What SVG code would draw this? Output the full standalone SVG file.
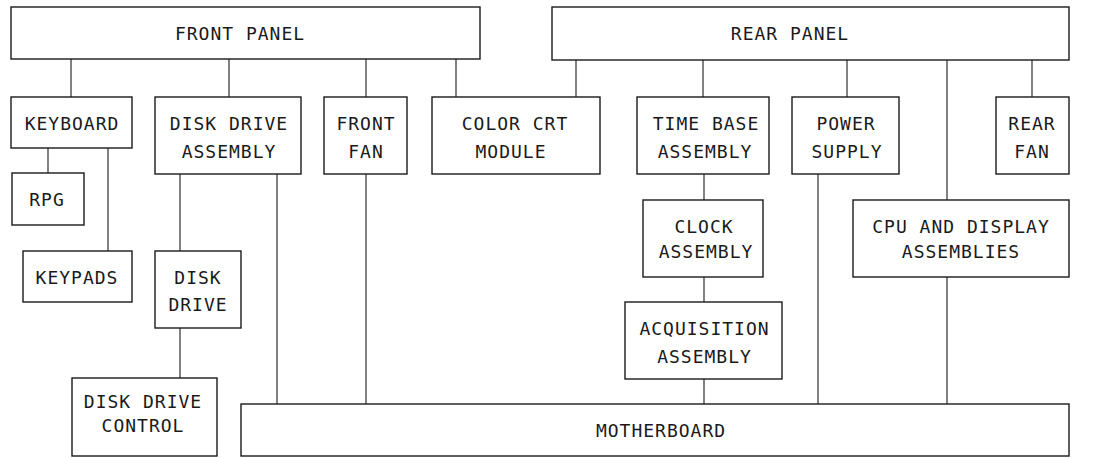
<svg xmlns="http://www.w3.org/2000/svg" width="1110" height="458" viewBox="0 0 1110 458">
<style>
rect{fill:#fff;stroke:#1a1a1a;stroke-width:1.4}
line{stroke:#1a1a1a;stroke-width:1.1}
text{font-family:"DejaVu Sans Mono","Liberation Mono",monospace;font-size:18px;letter-spacing:1px;fill:#1a1a1a;text-anchor:middle}
</style>
<rect x="0" y="0" width="1110" height="458" style="stroke:none"/>
<g id="connectors">
<line x1="71" y1="59" x2="71" y2="97"/>
<line x1="229" y1="59" x2="229" y2="97"/>
<line x1="366" y1="59" x2="366" y2="97"/>
<line x1="456" y1="59" x2="456" y2="97"/>
<line x1="576" y1="60" x2="576" y2="97"/>
<line x1="703" y1="60" x2="703" y2="97"/>
<line x1="847" y1="60" x2="847" y2="97"/>
<line x1="1032" y1="60" x2="1032" y2="97"/>
<line x1="947" y1="60" x2="947" y2="200"/>
<line x1="947" y1="277" x2="947" y2="404"/>
<line x1="48" y1="148" x2="48" y2="173"/>
<line x1="108" y1="148" x2="108" y2="251"/>
<line x1="180" y1="174" x2="180" y2="251"/>
<line x1="180" y1="328" x2="180" y2="378"/>
<line x1="277" y1="174" x2="277" y2="404"/>
<line x1="366" y1="174" x2="366" y2="404"/>
<line x1="704" y1="174" x2="704" y2="200"/>
<line x1="704" y1="277" x2="704" y2="302"/>
<line x1="704" y1="379" x2="704" y2="404"/>
<line x1="818" y1="174" x2="818" y2="404"/>
</g>
<g id="front-panel"><rect x="11" y="7" width="469" height="52"/><text x="240" y="39.5">FRONT PANEL</text></g>
<g id="rear-panel"><rect x="552" y="7" width="517" height="53"/><text x="790" y="39.5">REAR PANEL</text></g>
<g id="keyboard"><rect x="11" y="97" width="121" height="51"/><text x="72" y="129.5">KEYBOARD</text></g>
<g id="rpg"><rect x="12" y="173" width="72" height="52"/><text x="47" y="206">RPG</text></g>
<g id="keypads"><rect x="23" y="251" width="109" height="51"/><text x="77" y="284">KEYPADS</text></g>
<g id="disk-drive-assembly"><rect x="155" y="97" width="146" height="77"/><text x="229" y="130">DISK DRIVE</text><text x="229" y="157.5">ASSEMBLY</text></g>
<g id="disk-drive"><rect x="155" y="251" width="86" height="77"/><text x="198" y="284">DISK</text><text x="198" y="311">DRIVE</text></g>
<g id="disk-drive-control"><rect x="72" y="378" width="145" height="78"/><text x="143" y="407.5">DISK DRIVE</text><text x="143" y="432">CONTROL</text></g>
<g id="front-fan"><rect x="324" y="97" width="83" height="77"/><text x="366" y="130">FRONT</text><text x="366" y="157.5">FAN</text></g>
<g id="color-crt-module"><rect x="432" y="97" width="168" height="77"/><text x="515" y="130">COLOR CRT</text><text x="511" y="157.5">MODULE</text></g>
<g id="time-base-assembly"><rect x="637" y="97" width="132" height="77"/><text x="706" y="130">TIME BASE</text><text x="705" y="157.5">ASSEMBLY</text></g>
<g id="power-supply"><rect x="792" y="97" width="107" height="77"/><text x="846" y="130">POWER</text><text x="847" y="157.5">SUPPLY</text></g>
<g id="rear-fan"><rect x="996" y="97" width="73" height="77"/><text x="1032" y="130">REAR</text><text x="1032" y="157.5">FAN</text></g>
<g id="clock-assembly"><rect x="643" y="200" width="120" height="77"/><text x="704" y="233">CLOCK</text><text x="706" y="258">ASSEMBLY</text></g>
<g id="cpu-display"><rect x="853" y="200" width="216" height="77"/><text x="961" y="233">CPU AND DISPLAY</text><text x="961" y="258">ASSEMBLIES</text></g>
<g id="acquisition-assembly"><rect x="625" y="302" width="157" height="77"/><text x="704.5" y="335">ACQUISITION</text><text x="704.5" y="363">ASSEMBLY</text></g>
<g id="motherboard"><rect x="241" y="404" width="828" height="52"/><text x="661" y="436.5">MOTHERBOARD</text></g>
</svg>
